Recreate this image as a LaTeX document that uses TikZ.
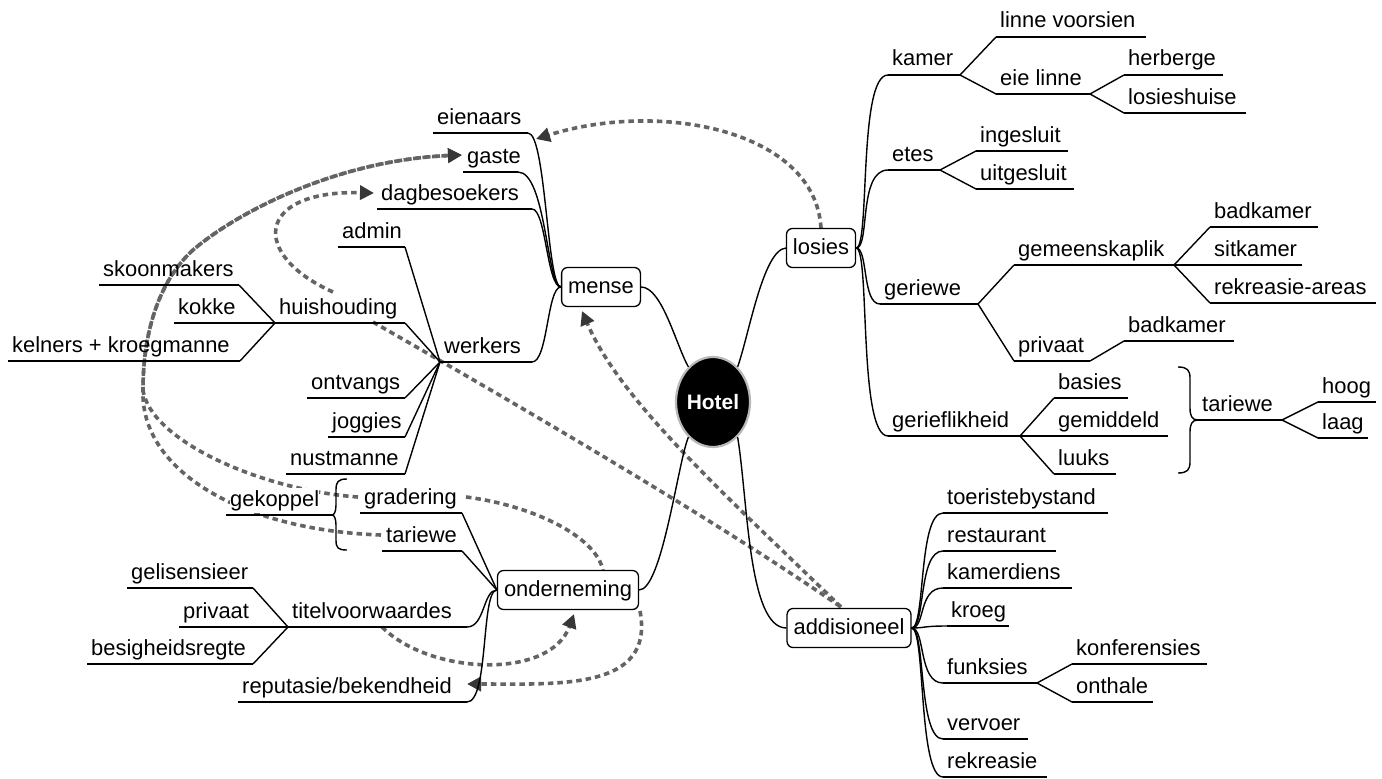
\documentclass[tikz,border=0pt]{standalone}
\usepackage{fontspec}
\setmainfont{Liberation Sans}
\usetikzlibrary{calc,arrows.meta,shapes.geometric}
\definecolor{linkgray}{RGB}{100,100,100}
\definecolor{tipgray}{RGB}{55,55,55}
\tikzset{
  branch/.style={line width=1.4bp, black},
  lbl/.style={anchor=base west, inner sep=0pt, font=\fontsize{22}{26}\selectfont},
  topic/.style={draw, line width=1.3bp, rounded corners=6bp, fill=white,
    minimum height=39bp, inner xsep=6.5bp, inner ysep=0pt,
    text height=16bp, text depth=4bp, font=\fontsize{22}{26}\selectfont},
  centre/.style={ellipse, fill=black, draw=gray!55, line width=2.2bp,
    minimum width=74bp, minimum height=90bp, inner sep=0pt, text=white,
    font=\fontsize{21}{24}\selectfont\bfseries},
  link/.style={draw=linkgray, line width=3.6bp, dash pattern=on 5.5bp off 4bp},
  linkarrow/.style={link, -{Triangle[length=14bp,width=14bp,color=tipgray,fill=tipgray]}},
  bracket/.style={line width=1.4bp, black}
}
% labelled branch: [node style] name, left x, right x, underline y, text
\newcommand\mmleaf[6][]{%
  \coordinate (#2-l) at (#3,#5);
  \coordinate (#2-r) at (#4,#5);
  \draw[branch] (#2-l) -- (#2-r);
  \node[lbl,#1] (#2) at (#3+4,#5-9) {#6};}
% smooth connector with horizontal ends
\newcommand\mmcurve[4]{\draw[branch] (#1) .. controls ($(#1)+(#3,0)$) and ($(#2)+(#4,0)$) .. (#2);}
\newcommand\mmline[2]{\draw[branch] (#1) -- (#2);}

\begin{document}
\begin{tikzpicture}[x=1bp,y=-1bp]
\path[fill=white] (0,0) rectangle (1382,778);
\useasboundingbox (0,0) rectangle (1382,778);

% ---------- main topics ----------
\node[centre] (hotel) at (713,402) {Hotel};

% ---------- dashed relations (underneath everything else) ----------
\coordinate (eienaars-tip) at (536,139);
\coordinate (gaste-tip) at (462,155);
\coordinate (dag-tip) at (374,193);
\coordinate (huis-top) at (333,292);
\coordinate (huis-end) at (373,322);
\coordinate (addi-top) at (841,607);
\coordinate (mense-tip) at (582,311);
\coordinate (bend) at (143,390);
\coordinate (bend2) at (193,250);
\coordinate (titel-start) at (382,627);
\coordinate (ond-top) at (603,570);
\coordinate (ond-tip) at (574,614);
\coordinate (ond-out) at (640,611);
\coordinate (rep-tip) at (467,684);
\coordinate (grad-in) at (358,497);
\coordinate (grad-out) at (466,497);
\coordinate (tar-in) at (381,535);

\draw[linkarrow] (821,228) .. controls (815,130) and (660,100) .. (eienaars-tip);
\draw[linkarrow] (grad-in) .. controls (260,490) and (150,440) .. (bend)
   .. controls (143,330) and (160,280) .. (bend2)
   .. controls (240,210) and (340,160) .. (gaste-tip);
\draw[linkarrow] (tar-in) .. controls (240,530) and (140,470) .. (bend)
   .. controls (143,330) and (160,280) .. (bend2)
   .. controls (240,210) and (340,160) .. (gaste-tip);
\draw[linkarrow] (huis-top) .. controls (250,255) and (255,190) .. (dag-tip);
\draw[link] (huis-end) .. controls (500,395) and (700,510) .. (addi-top);
\draw[linkarrow] (addi-top) .. controls (720,490) and (620,400) .. (mense-tip);
\draw[link] (grad-out) .. controls (530,505) and (595,535) .. (ond-top);
\draw[linkarrow] (titel-start) .. controls (430,675) and (550,680) .. (ond-tip);
\draw[linkarrow] (ond-out) .. controls (655,690) and (560,684) .. (rep-tip);

\node[topic] (mense) at (601,287) {mense};
\node[topic] (losies) at (821,248) {losies};
\node[topic] (onderneming) at (568,590) {onderneming};
\node[topic] (addisioneel) at (849,628) {addisioneel};

\draw[branch] (mense.east) .. controls (662,287) and (676,345) .. (hotel.125);
\draw[branch] (hotel.55) .. controls (749,335) and (763,250) .. (losies.west);
\draw[branch] (onderneming.east) .. controls (662,590) and (678,462) .. (hotel.235);
\draw[branch] (hotel.305) .. controls (748,500) and (748,628) .. (addisioneel.west);

% ---------- mense ----------
\mmleaf{eienaars}{433}{528}{133}{eienaars}
\mmleaf{gaste}{463}{518}{172}{gaste}
\mmleaf{dagbesoekers}{377}{532}{209}{dagbesoekers}
\mmleaf{werkers}{440}{532}{362}{werkers}
\mmcurve{eienaars-r}{mense.west}{18}{-14}
\mmcurve{gaste-r}{mense.west}{28}{-14}
\mmcurve{dagbesoekers-r}{mense.west}{14}{-14}
\mmcurve{werkers-r}{mense.west}{16}{-14}

\mmleaf{admin}{338}{405}{247}{admin}
\mmleaf{huishouding}{275}{405}{323}{huishouding}
\mmleaf{ontvangs}{307}{405}{398}{ontvangs}
\mmleaf{joggies}{328}{405}{437}{joggies}
\mmleaf{nustmanne}{286}{405}{474}{nustmanne}
\foreach \n in {admin,huishouding,ontvangs,joggies,nustmanne}
  {\mmline{\n-r}{werkers-l}}

\mmleaf{skoonmakers}{99}{239}{285}{skoonmakers}
\mmleaf{kokke}{174}{240}{323}{kokke}
\mmleaf{kelners}{8}{240}{361}{kelners + kroegmanne}
\foreach \n in {skoonmakers,kokke,kelners}
  {\mmline{\n-r}{huishouding-l}}

% ---------- onderneming ----------
\mmleaf{gradering}{360}{462}{513}{gradering}
\mmleaf{tariewe}{382}{462}{551}{tariewe}
\mmleaf{titel}{288}{467}{627}{titelvoorwaardes}
\mmleaf{reputasie}{238}{467}{702}{reputasie/bekendheid}
\mmline{gradering-r}{onderneming.west}
\mmline{tariewe-r}{onderneming.west}
\mmcurve{titel-r}{onderneming.west}{18}{-14}
\mmcurve{reputasie-r}{onderneming.west}{22}{-16}

\mmleaf{gelisensieer}{127}{253}{588}{gelisensieer}
\mmleaf{privaatT}{179}{253}{627}{privaat}
\mmleaf{besigheid}{87}{253}{664}{besigheidsregte}
\foreach \n in {gelisensieer,privaatT,besigheid}
  {\mmline{\n-r}{titel-l}}

\mmleaf[fill=white,inner ysep=2bp]{gekoppel}{226}{332}{515}{gekoppel}
\draw[bracket] (347,479) .. controls (338,479) and (336,482) .. (336,490) -- (336,505)
   .. controls (336,512) and (334,515) .. (gekoppel-r)
   .. controls (334,515) and (336,518) .. (336,525) -- (336,540)
   .. controls (336,548) and (338,550) .. (347,550);

% ---------- losies ----------
\mmleaf{kamer}{888}{960}{75}{kamer}
\mmleaf{linnev}{996}{1146}{37}{linne voorsien}
\mmleaf{eielinne}{996}{1090}{94}{eie linne}
\mmleaf{herberge}{1124}{1223}{75}{herberge}
\mmleaf{losieshuise}{1124}{1246}{113}{losieshuise}
\mmleaf{etes}{888}{940}{170}{etes}
\mmleaf{ingesluit}{976}{1068}{151}{ingesluit}
\mmleaf{uitgesluit}{976}{1074}{189}{uitgesluit}
\mmleaf{geriewe}{880}{978}{304}{geriewe}
\mmleaf{gemeenskaplik}{1014}{1174}{265}{gemeenskaplik}
\mmleaf{badkamerA}{1210}{1318}{227}{badkamer}
\mmleaf{sitkamer}{1210}{1302}{265}{sitkamer}
\mmleaf{rekreasieareas}{1210}{1376}{303}{rekreasie-areas}
\mmleaf{privaatG}{1014}{1090}{361}{privaat}
\mmleaf{badkamerB}{1124}{1234}{341}{badkamer}
\mmleaf{gerieflikheid}{888}{1020}{436}{gerieflikheid}
\mmleaf{basies}{1054}{1128}{398}{basies}
\mmleaf{gemiddeld}{1054}{1168}{436}{gemiddeld}
\mmleaf{luuks}{1054}{1116}{474}{luuks}
\mmleaf{tarieweR}{1198}{1282}{420}{tariewe}
\mmleaf{hoog}{1318}{1376}{402}{hoog}
\mmleaf{laag}{1318}{1368}{438}{laag}

\mmcurve{losies.east}{kamer-l}{14}{-30}
\mmcurve{losies.east}{etes-l}{14}{-30}
\mmcurve{losies.east}{geriewe-l}{12}{-18}
\mmcurve{losies.east}{gerieflikheid-l}{14}{-30}

\mmline{kamer-r}{linnev-l}
\mmline{kamer-r}{eielinne-l}
\mmline{eielinne-r}{herberge-l}
\mmline{eielinne-r}{losieshuise-l}
\mmline{etes-r}{ingesluit-l}
\mmline{etes-r}{uitgesluit-l}
\mmline{geriewe-r}{gemeenskaplik-l}
\mmline{geriewe-r}{privaatG-l}
\mmline{gemeenskaplik-r}{badkamerA-l}
\mmline{gemeenskaplik-r}{sitkamer-l}
\mmline{gemeenskaplik-r}{rekreasieareas-l}
\mmline{privaatG-r}{badkamerB-l}
\mmline{gerieflikheid-r}{basies-l}
\mmline{gerieflikheid-r}{gemiddeld-l}
\mmline{gerieflikheid-r}{luuks-l}
\mmline{tarieweR-r}{hoog-l}
\mmline{tarieweR-r}{laag-l}

\draw[bracket] (1178,367) .. controls (1187,367) and (1190,370) .. (1190,378) -- (1190,408)
   .. controls (1190,416) and (1192,420) .. (tarieweR-l)
   .. controls (1192,420) and (1190,424) .. (1190,432) -- (1190,462)
   .. controls (1190,470) and (1187,473) .. (1178,473);

% ---------- addisioneel ----------
\mmleaf{toeriste}{943}{1108}{513}{toeristebystand}
\mmleaf{restaurant}{943}{1056}{551}{restaurant}
\mmleaf{kamerdiens}{943}{1072}{588}{kamerdiens}
\mmleaf{kroeg}{947}{1009}{626}{kroeg}
\mmleaf{funksies}{943}{1037}{683}{funksies}
\mmleaf{konferensies}{1072}{1207}{664}{konferensies}
\mmleaf{onthale}{1072}{1153}{702}{onthale}
\mmleaf{vervoer}{943}{1028}{739}{vervoer}
\mmleaf{rekreasie}{943}{1047}{777}{rekreasie}
\foreach \n in {toeriste,restaurant,kamerdiens,kroeg,funksies,vervoer,rekreasie}
  {\mmcurve{addisioneel.east}{\n-l}{14}{-25}}
\mmline{funksies-r}{konferensies-l}
\mmline{funksies-r}{onthale-l}

\end{tikzpicture}
\end{document}
